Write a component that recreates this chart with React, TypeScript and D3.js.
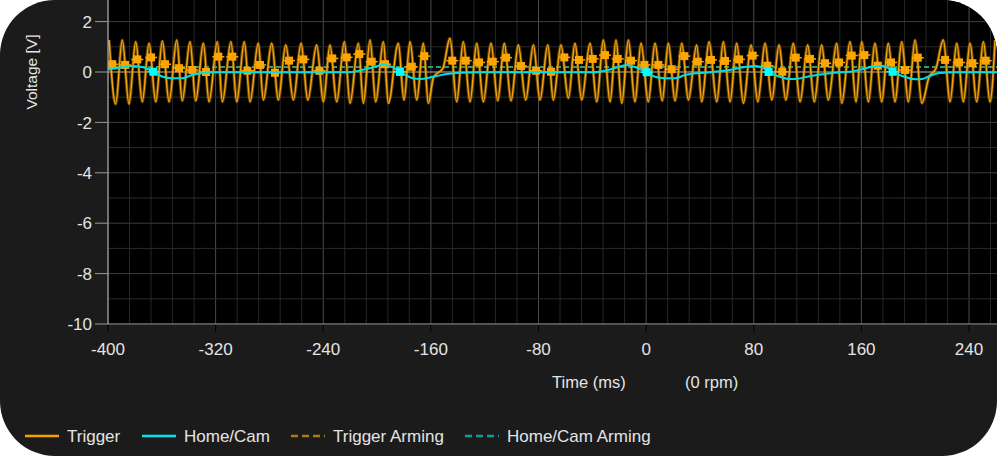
import React from "react";
import * as d3 from "d3";

// trigger signal, extrema (ms, V)
const triggerT = [
  -399.2, -394.3, -389.4, -384.4, -379.4, -374.5, -369.5, -364.5, -359.6, -354.6,
  -348.9, -344.8, -339.0, -334.8, -329.1, -324.9, -318.7, -315.0, -308.6, -304.3,
  -298.7, -294.4, -288.3, -284.5, -278.3, -273.4, -267.9, -262.2, -256.5, -251.5,
  -244.9, -239.9, -235.0, -230.0, -224.3, -220.1, -213.9, -210.2, -205.2, -201.0,
  -195.3, -191.6, -184.2, -180.0, -175.5, -170.5, -165.6, -161.9, -158.0, -151.0,
  -145.8, -140.8, -135.9, -130.9, -125.9, -121.0, -115.3, -110.3, -105.4, -100.4,
  -95.0, -89.5, -83.8, -78.9, -73.1, -69.0, -63.3, -57.8, -52.9, -47.9,
  -41.7, -36.7, -31.8, -26.8, -22.4, -18.1, -13.2, -8.3, -3.8, 1.6,
  6.6, 12.0, 16.5, 21.5, 26.5, 31.4, 37.6, 41.3, 46.8, 52.5,
  57.4, 62.4, 67.3, 72.3, 78.0, 83.0, 88.4, 93.4, 98.8, 103.8,
  109.4, 114.4, 120.1, 125.0, 130.5, 135.4, 141.7, 145.4, 151.6, 156.0,
  160.3, 165.2, 170.1, 175.1, 180.0, 185.0, 190.0, 194.9, 199.9, 204.9,
  210.3, 215.5, 220.9, 225.9, 230.9, 235.8, 240.8, 245.7, 250.7, 255.6,
  259.4,
];
const triggerV = [
  1.27, -1.27, 1.27, -1.27, 1.2, -1.18, 1.14, -1.18, 1.23, -1.18,
  1.27, -1.14, 1.2, -1.14, 1.14, -1.18, 1.2, -1.18, 1.2, -1.18,
  1.2, -1.18, 1.14, -1.11, 1.14, -1.11, 1.07, -1.11, 1.14, -1.11,
  1.07, -1.18, 1.07, -1.18, 1.2, -1.24, 1.14, -1.24, 1.27, -1.18,
  1.2, -1.24, 1.14, -1.11, 1.2, -1.11, 1.14, -1.24, -0.2, 0.15,
  1.34, -1.18, 1.2, -1.18, 1.14, -1.18, 1.14, -1.14, 1.14, -1.14,
  1.07, -1.11, 1.07, -1.11, 1.07, -1.11, 1.07, -1.04, 1.14, -1.11,
  1.14, -1.18, 1.27, -1.18, 1.27, -1.24, 1.27, -1.18, 1.14, -1.18,
  1.14, -1.14, 1.14, -1.14, 1.14, -1.11, 1.07, -1.18, 1.2, -1.18,
  1.2, -1.18, 1.14, -1.24, 1.07, -1.18, 1.14, -1.11, 1.07, -1.11,
  1.14, -1.18, 1.07, -1.18, 1.07, -1.11, 1.14, -1.24, 1.2, -1.18,
  1.2, -1.18, 1.14, -1.18, 1.14, -1.18, 1.2, -1.18, 1.27, -1.24,
  -0.2, 0.15, 1.27, -1.18, 1.14, -1.18, 1.14, -1.18, 1.2, -1.18,
  1.27,
];

// trigger sample markers
const trigMarkT = [
  -396.8, -387.3, -378.2, -368.0, -357.6, -347.2, -337.3, -327.1, -318.0, -307.6,
  -296.4, -287.0, -275.9, -265.4, -254.8, -242.9, -233.3, -222.6, -213.2, -204.0,
  -194.1, -182.9, -174.2, -164.9, -144.1, -134.1, -124.2, -114.0, -104.1, -93.0,
  -81.8, -70.7, -60.8, -49.9, -39.7, -30.6, -21.1, -11.2, -1.3, 9.1,
  19.0, 28.4, 38.4, 48.2, 58.6, 69.1, 79.2, 90.1, 101.2, 111.2,
  121.8, 133.0, 143.4, 152.8, 162.2, 172.2, 182.0, 192.4, 201.9, 222.2,
  232.6, 242.5, 252.4,
];
const trigMarkV = [
  0.31, 0.28, 0.5, 0.58, 0.31, 0.15, 0.08, 0.0, 0.61, 0.61,
  0.05, 0.28, -0.03, 0.45, 0.5, 0.05, 0.54, 0.58, 0.71, 0.41,
  0.31, 0.01, 0.21, 0.63, 0.45, 0.45, 0.38, 0.41, 0.57, 0.24,
  0.05, 0.01, 0.58, 0.48, 0.52, 0.67, 0.52, 0.45, 0.28, 0.28,
  0.11, 0.63, 0.41, 0.48, 0.44, 0.5, 0.65, 0.25, 0.01, 0.57,
  0.52, 0.35, 0.38, 0.65, 0.67, 0.25, 0.38, 0.08, 0.57, 0.48,
  0.38, 0.35, 0.45,
];

// home / cam signal
const camT = [
  -400.0, -391.1, -382.2, -374.7, -368.8, -366.3, -359.1, -352.4, -345.0, -337.5,
  -330.1, -320.4, -221.6, -211.2, -199.3, -195.6, -188.9, -183.0, -173.3, -168.1,
  -158.4, -148.0, -138.4, -123.5, -38.1, -28.4, -18.0, -14.3, -6.0, 0.4,
  6.6, 14.1, 21.5, 28.9, 36.4, 43.8, 52.7, 63.8, 73.5, 80.9,
  88.4, 91.0, 99.6, 107.0, 112.2, 119.6, 127.0, 140.4, 151.6, 161.2,
  167.9, 173.8, 179.8, 183.2, 192.4, 199.9, 205.1, 209.6, 217.0, 229.7,
  260.9,
];
const camV = [
  0.11, 0.17, 0.24, 0.2, 0.08, 0.01, -0.19, -0.25, -0.25, -0.12,
  -0.05, -0.01, -0.01, 0.08, 0.24, 0.3, 0.2, 0.01, -0.25, -0.28,
  -0.19, -0.08, -0.03, -0.01, -0.01, 0.08, 0.24, 0.28, 0.15, -0.01,
  -0.19, -0.25, -0.25, -0.12, -0.05, -0.03, 0.02, 0.1, 0.2, 0.24,
  0.15, 0.0, -0.19, -0.28, -0.27, -0.19, -0.12, -0.03, 0.01, 0.12,
  0.21, 0.24, 0.17, 0.01, -0.19, -0.29, -0.28, -0.19, -0.05, -0.01,
  -0.01,
];
const camMarkT = [-366.3, -183.0, 0.4, 91.0, 183.2];
const camMarkV = [0.01, 0.01, -0.01, 0.0, 0.01];

const triggerArming = 0.2;
const camArming = 0.2;

const xTicks = [-400, -320, -240, -160, -80, 0, 80, 160, 240];
const yTicks = [2, 0, -2, -4, -6, -8, -10];

const legendItems = [
  { label: "Trigger", color: "#f5a300", dash: "", x: 25 },
  { label: "Home/Cam", color: "#00e6e6", dash: "", x: 142 },
  { label: "Trigger Arming", color: "#b07a10", dash: "7,4", x: 291 },
  { label: "Home/Cam Arming", color: "#119c9c", dash: "7,4", x: 465 },
];

const W = 997;
const H = 456;
const left = 108;
const bottom = 324;
const font = "'Liberation Sans', Arial, sans-serif";
const textCol = "#e4e4e4";

export default function App() {
  const x = d3.scaleLinear().domain([-400, 260.8]).range([left, W]);
  const y = d3.scaleLinear().domain([-10, 2]).range([bottom, 21.6]);

  const trig = triggerT.map((t, i) => [t, triggerV[i]] as [number, number]);
  const cam = camT.map((t, i) => [t, camV[i]] as [number, number]);
  const line = d3
    .line<[number, number]>()
    .x((d) => x(d[0]))
    .y((d) => y(d[1]))
    .curve(d3.curveMonotoneX);

  const vGrid = d3.range(-400, 261, 16);
  const hGrid = d3.range(-10, 4, 1);

  return (
    <svg width={W} height={H} style={{ position: "absolute", left: 0, top: 0, background: "#fff" }}>
      <defs>
        <clipPath id="card">
          <rect x={0} y={0} width={W} height={H} rx={55} ry={55} />
        </clipPath>
        <clipPath id="plot">
          <rect x={left} y={-10} width={W - left} height={bottom + 10} />
        </clipPath>
      </defs>
      <g clipPath="url(#card)">
        <rect x={0} y={0} width={W} height={H} fill="#1b1b1b" />
        <rect x={left} y={-10} width={W - left} height={bottom + 10} fill="#000" />

        <g clipPath="url(#plot)">
          {vGrid.map((t) => (
            <line
              key={"v" + t}
              x1={x(t)}
              x2={x(t)}
              y1={-10}
              y2={bottom}
              stroke={(t + 400) % 80 === 0 ? "#4c4c4c" : "#262626"}
              strokeWidth={1}
            />
          ))}
          {hGrid.map((v) => (
            <line
              key={"h" + v}
              x1={left}
              x2={W}
              y1={y(v)}
              y2={y(v)}
              stroke={v % 2 === 0 ? "#3c3c3c" : "#2a2a2a"}
              strokeWidth={1}
            />
          ))}
          <line x1={left} x2={W} y1={y(0)} y2={y(0)} stroke="#9c9c9c" strokeWidth={1} />
          <line
            x1={left}
            x2={W}
            y1={y(triggerArming)}
            y2={y(triggerArming)}
            stroke="#b07a10"
            strokeWidth={1.5}
            strokeDasharray="5,3"
          />
          <line
            x1={left}
            x2={W}
            y1={y(camArming)}
            y2={y(camArming)}
            stroke="#1fa893"
            strokeWidth={1.5}
            strokeDasharray="5,3"
          />

          <path d={line(trig) ?? ""} fill="none" stroke="#c98400" strokeOpacity={0.5} strokeWidth={3.2} />
          <path d={line(trig) ?? ""} fill="none" stroke="#f5a50c" strokeWidth={1.5} />
          {trigMarkT.map((t, i) => (
            <g key={"tm" + i} fill="#ffa500" stroke="#ffa500">
              <line x1={x(t) - 6} x2={x(t) + 6} y1={y(trigMarkV[i])} y2={y(trigMarkV[i])} strokeWidth={1.5} />
              <rect x={x(t) - 4} y={y(trigMarkV[i]) - 4} width={8} height={8} stroke="none" />
            </g>
          ))}

          <path d={line(cam) ?? ""} fill="none" stroke="#00e0e0" strokeWidth={2} />
          {camMarkT.map((t, i) => (
            <g key={"cm" + i} fill="#00ffff" stroke="#00ffff">
              <line x1={x(t) - 6} x2={x(t) + 6} y1={y(camMarkV[i])} y2={y(camMarkV[i])} strokeWidth={1.5} />
              <rect x={x(t) - 4} y={y(camMarkV[i]) - 4} width={8} height={8} stroke="none" />
            </g>
          ))}
        </g>

        {/* axes */}
        <line x1={left} x2={left} y1={-10} y2={bottom} stroke="#a8a8a8" strokeWidth={1.2} />
        <line x1={left} x2={W} y1={bottom} y2={bottom} stroke="#8c8c8c" strokeWidth={1.2} />
        {yTicks.map((v) => (
          <g key={"yt" + v}>
            <line x1={95} x2={left} y1={y(v)} y2={y(v)} stroke="#9a9a9a" strokeWidth={1} />
            <text
              x={92}
              y={y(v)}
              dy="0.36em"
              textAnchor="end"
              fill={textCol}
              fontFamily={font}
              fontSize={17}
            >
              {v}
            </text>
          </g>
        ))}
        {xTicks.map((t) => (
          <g key={"xt" + t}>
            <line x1={x(t)} x2={x(t)} y1={bottom + 1} y2={bottom + 8} stroke="#000" strokeWidth={1} />
            <text x={x(t)} y={355} textAnchor="middle" fill={textCol} fontFamily={font} fontSize={17}>
              {t}
            </text>
          </g>
        ))}
        <text
          transform="translate(37,72) rotate(-90)"
          textAnchor="middle"
          fill={textCol}
          fontFamily={font}
          fontSize={15.5}
        >
          Voltage [V]
        </text>
        <text x={552} y={388} fill={textCol} fontFamily={font} fontSize={16.5}>
          Time (ms)
        </text>
        <text x={685} y={388} fill={textCol} fontFamily={font} fontSize={16.5}>
          (0 rpm)
        </text>

        {/* legend */}
        {legendItems.map((it) => (
          <g key={it.label}>
            <line
              x1={it.x}
              x2={it.x + 34}
              y1={436}
              y2={436}
              stroke={it.color}
              strokeWidth={2.5}
              strokeDasharray={it.dash || undefined}
            />
            <text x={it.x + 42} y={442} fill={textCol} fontFamily={font} fontSize={17}>
              {it.label}
            </text>
          </g>
        ))}
      </g>
    </svg>
  );
}
